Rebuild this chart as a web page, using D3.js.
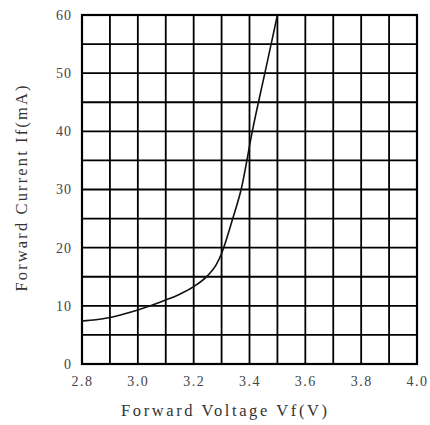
<!DOCTYPE html>
<html><head><meta charset="utf-8">
<script src="https://d3js.org/d3.v7.min.js"></script>
<style>body{margin:0;background:#fff}</style>
</head><body>
<svg id="c" width="430" height="425"></svg>
<script>
const voltage = [2.8,2.85,2.9,2.95,3.0,3.05,3.1,3.15,3.2,3.25,3.28,3.3,3.34,3.37,3.41,3.455,3.5];
const current = [7.4,7.6,8.0,8.6,9.3,10.1,11.0,12.0,13.3,15.2,17.0,19.0,25,30,40,50,60];
const xTickLabels = ["2.8","3.0","3.2","3.4","3.6","3.8","4.0"];
const yTickLabels = ["0","10","20","30","40","50","60"];
const xGrid = d3.range(0,13).map(i=>2.8+i*0.1);
const yGrid = d3.range(0,13).map(i=>i*5);

const svg = d3.select("#c");
const L=82,R=417,T=15,B=364;
const x = d3.scaleLinear().domain([2.8,4.0]).range([L,R]);
const y = d3.scaleLinear().domain([0,60]).range([B,T]);
const font = "'Liberation Serif','DejaVu Serif',serif";

const g = svg.append("g");
g.selectAll("line.v").data(xGrid).join("line")
  .attr("x1",d=>x(d)).attr("x2",d=>x(d)).attr("y1",T).attr("y2",B)
  .attr("stroke","#000").attr("stroke-width",1.8);
g.selectAll("line.h").data(yGrid).join("line")
  .attr("y1",d=>y(d)).attr("y2",d=>y(d)).attr("x1",L).attr("x2",R)
  .attr("stroke","#000").attr("stroke-width",1.8);
g.append("rect").attr("x",L).attr("y",T).attr("width",R-L).attr("height",B-T)
  .attr("fill","none").attr("stroke","#000").attr("stroke-width",2.2);

const line = d3.line().x((d,i)=>x(voltage[i])).y(d=>y(d)).curve(d3.curveMonotoneX);
g.append("path").datum(current).attr("d",line).attr("fill","none")
  .attr("stroke","#111").attr("stroke-width",1.6);

const xAxis = d3.axisBottom(x).tickValues(xTickLabels.map(Number)).tickFormat((d,i)=>xTickLabels[i]).tickSize(0).tickPadding(12);
const ax = svg.append("g").attr("transform",`translate(0,${B})`).call(xAxis);
ax.select(".domain").remove();
ax.selectAll("text").attr("font-family",font).attr("font-size",14).attr("letter-spacing","1.5px").attr("fill","#444");

const yAxis = d3.axisLeft(y).tickValues(yTickLabels.map(Number)).tickFormat((d,i)=>yTickLabels[i]).tickSize(0).tickPadding(10);
const ay = svg.append("g").attr("transform",`translate(${L},0)`).call(yAxis);
ay.select(".domain").remove();
ay.selectAll("text").attr("font-family",font).attr("font-size",14).attr("letter-spacing","1px").attr("fill","#444");

svg.append("text").attr("x",224).attr("y",416).attr("text-anchor","middle")
  .attr("font-family",font).attr("font-size",16.5).attr("fill","#333")
  .attr("textLength",206).attr("lengthAdjust","spacing")
  .text("Forward Voltage Vf(V)");
svg.append("text").attr("transform","translate(27,188.5) rotate(-90)").attr("text-anchor","middle")
  .attr("font-family",font).attr("font-size",16.5).attr("fill","#333")
  .attr("textLength",206).attr("lengthAdjust","spacing")
  .text("Forward Current If(mA)");
</script>
</body></html>
